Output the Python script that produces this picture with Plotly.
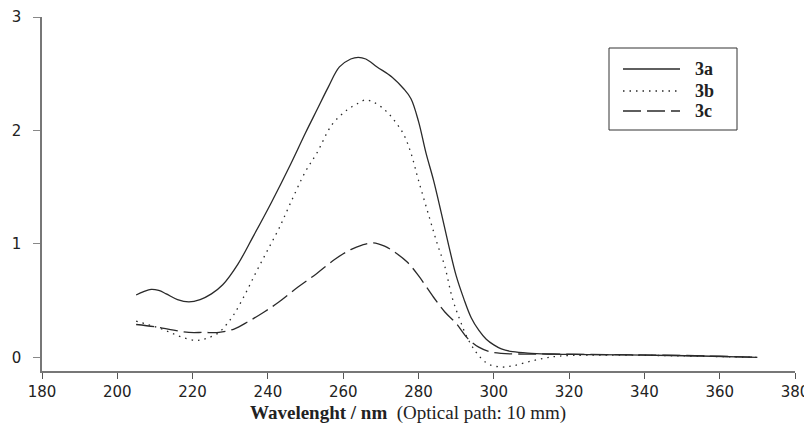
import plotly.graph_objects as go

# spectra (wavelength nm, absorbance)
x_3a = [205, 207, 209, 211, 213, 216, 219, 222, 225, 228, 232, 236, 241, 246, 250, 253, 256, 259, 262, 264,
        266, 269, 273, 276, 278, 280, 282, 284, 286, 288, 290, 292, 294, 296, 298, 300, 302, 305, 310, 316,
        325, 340, 355, 370]
y_3a = [0.55, 0.58, 0.60, 0.59, 0.56, 0.51, 0.49, 0.51, 0.56, 0.64, 0.82, 1.06, 1.37, 1.70, 1.98, 2.18, 2.38, 2.56, 2.63, 2.645,
        2.63, 2.56, 2.47, 2.37, 2.28, 2.08, 1.80, 1.56, 1.28, 0.99, 0.72, 0.52, 0.35, 0.24, 0.16, 0.11, 0.075, 0.05, 0.036, 0.028,
        0.025, 0.02, 0.012, 0.0]

x_3b = [205, 208, 211, 214, 217, 221, 224, 227, 229, 231, 234, 237, 240, 243, 246, 250, 253, 257, 261, 264,
        266, 268, 270, 272, 274, 276, 278, 280, 283, 285, 287, 289, 291, 293, 295, 297, 299, 302, 305, 309,
        313, 317, 325, 340, 355, 370]
y_3b = [0.32, 0.29, 0.26, 0.22, 0.18, 0.15, 0.17, 0.22, 0.29, 0.38, 0.56, 0.76, 0.95, 1.14, 1.36, 1.64, 1.80, 2.05, 2.18, 2.24,
        2.27, 2.25, 2.21, 2.15, 2.07, 1.97, 1.80, 1.56, 1.22, 1.00, 0.80, 0.52, 0.33, 0.17, 0.06, -0.02, -0.065, -0.085, -0.075, -0.04,
        -0.01, 0.01, 0.02, 0.018, 0.01, 0.0]

x_3c = [205, 210, 215, 219, 223, 227, 231, 235, 239, 243, 248, 253, 258, 262, 265, 268, 271, 274, 277, 280,
        284, 287, 290, 293, 296, 299, 302, 306, 315, 330, 345, 360, 370]
y_3c = [0.29, 0.27, 0.24, 0.22, 0.22, 0.22, 0.25, 0.32, 0.40, 0.49, 0.62, 0.74, 0.87, 0.95, 0.99, 1.01, 0.98, 0.92, 0.84, 0.72,
        0.53, 0.40, 0.30, 0.17, 0.09, 0.05, 0.035, 0.03, 0.03, 0.025, 0.02, 0.01, 0.0]

names = ["3a", "3b", "3c"]
dashes = ["solid", "1.5px,5px", "18px,6px"]

# the page has an 8px body margin, so the figure is shifted by 8px
OFF = 8
W, H = 804, 423
L, R, T, B = 34, 17, 9, 60
pw, ph = W - L - R, H - T - B

def px(x):  # page pixel -> paper
    return (x - OFF - L) / pw

def py(y):
    return (H - B - (y - OFF)) / ph

fig = go.Figure()
for xs, ys, d in zip([x_3a, x_3b, x_3c], [y_3a, y_3b, y_3c], dashes):
    fig.add_trace(go.Scatter(x=xs, y=ys, mode="lines", line_shape="spline",
                             line=dict(color="#2a2a2a", width=1.3, dash=d), showlegend=False))

fig.update_layout(
    width=W, height=H, margin=dict(l=L, r=R, t=T, b=B, autoexpand=False),
    plot_bgcolor="white", paper_bgcolor="white",
    font=dict(family="DejaVu Sans", size=15, color="#222"),
    xaxis=dict(range=[180, 380], dtick=20, showgrid=False, zeroline=False, automargin=False,
               showline=True, linecolor="#777", linewidth=1.5,
               ticks="outside", ticklen=6, tickcolor="#555", tickwidth=1),
    yaxis=dict(range=[-0.12, 3], tickvals=[0, 1, 2, 3], showgrid=False, zeroline=False, automargin=False,
               showline=True, linecolor="#777", linewidth=1.5,
               ticks="outside", ticklen=7, tickcolor="#888", tickwidth=1,
               ticklabelstandoff=9),
)

# legend box drawn by hand
fig.add_shape(type="rect", xref="paper", yref="paper",
              x0=px(609), x1=px(737), y0=py(130), y1=py(48),
              line=dict(color="#333", width=1), fillcolor="white")
for i, (n, d) in enumerate(zip(names, dashes)):
    yy = [69, 91, 111][i]
    fig.add_shape(type="line", xref="paper", yref="paper",
                  x0=px(623), x1=px(680), y0=py(yy), y1=py(yy),
                  line=dict(color="#2a2a2a", width=1.3, dash=d))
    fig.add_annotation(xref="paper", yref="paper", x=px(693), y=py(yy), text="<b>%s</b>" % n,
                       showarrow=False, xanchor="left", yanchor="middle",
                       font=dict(family="Liberation Serif, Times New Roman", size=18, color="#222"))

fig.add_annotation(xref="paper", yref="paper", x=px(408), y=py(413),
                   text="<b>Wavelenght / nm</b>&nbsp; (Optical path: 10 mm)", showarrow=False,
                   xanchor="center", yanchor="middle",
                   font=dict(family="Liberation Serif, Times New Roman", size=19, color="#222"))

fig.write_html("out.html")
